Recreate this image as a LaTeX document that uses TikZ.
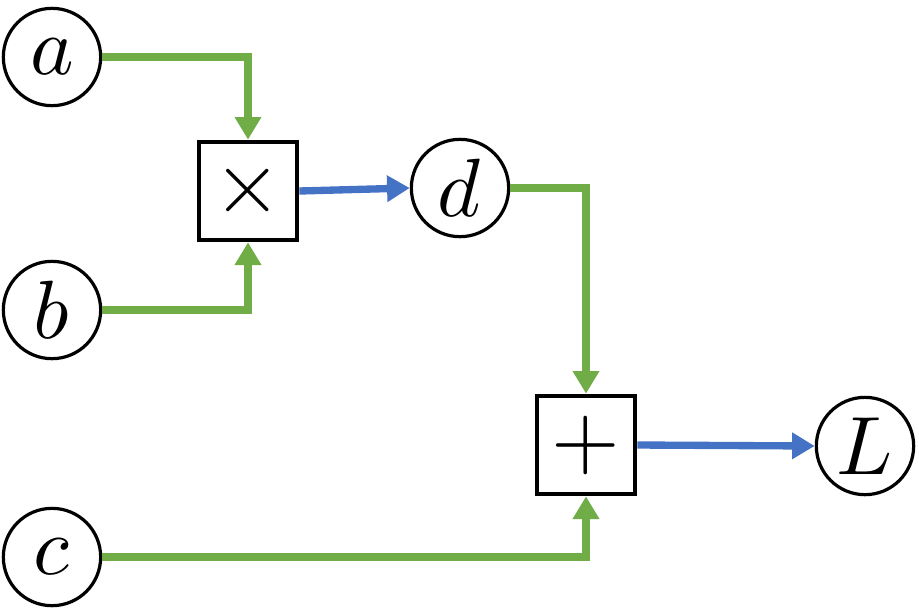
\documentclass[tikz,border=0pt]{standalone}
\usepackage{fontspec}
\usepackage{unicode-math}
\setmathfont{Latin Modern Math}
\usetikzlibrary{arrows.meta}
\definecolor{lgreen}{HTML}{70AD47}
\definecolor{lblue}{HTML}{4472C4}
\tikzset{
  var/.style={circle,draw=black,line width=2.4pt,minimum size=73pt,inner sep=0pt,font=\fontsize{62}{62}\selectfont},
  op/.style={rectangle,draw=black,line width=3pt,minimum size=74pt,inner sep=0pt,font=\fontsize{66}{66}\selectfont},
  tip/.style={-{Triangle[length=17pt,width=19pt]}},
  gline/.style={tip,draw=lgreen,line width=5.5pt},
  bline/.style={tip,draw=lblue,line width=5.5pt}
}
\begin{document}
\begin{tikzpicture}[x=0.75pt,y=-0.75pt]
\useasboundingbox (0,0) rectangle (919,611);
\node[var] (a) at (52,57) {$a$};
\node[var] (b) at (52,310) {$b$};
\node[var] (c) at (52,557) {$c$};
\node[var] (d) at (460,188) {$d$};
\node[var] (L) at (865,446) {$L$};
\node[op] (mul) at (248,191) {$\times$};
\node[op] (add) at (586,445) {$+$};
\draw[gline] (a.east) -| (mul.north);
\draw[gline] (b.east) -| (mul.south);
\draw[gline] (d.east) -| (add.north);
\draw[gline] (c.east) -| (add.south);
\draw[bline] (mul.east) -- (d.west);
\draw[bline] (add.east) -- (L.west);
\end{tikzpicture}
\end{document}
